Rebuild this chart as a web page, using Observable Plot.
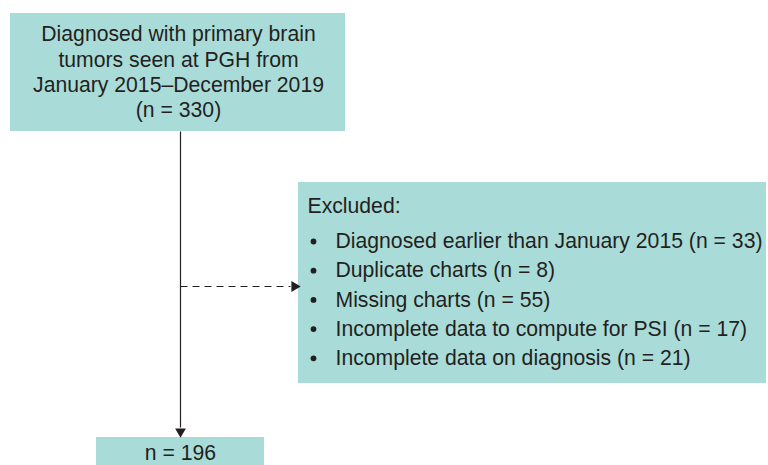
<!DOCTYPE html>
<html>
<head>
<meta charset="utf-8">
<script src="https://cdn.jsdelivr.net/npm/d3@7"></script>
<script src="https://cdn.jsdelivr.net/npm/@observablehq/plot@0.6"></script>
<style>
  html, body { margin: 0; padding: 0; background: #ffffff; }
  #chart svg { display: block; }
</style>
</head>
<body>
<div id="chart"></div>
<script>
// ---- data ----
const sourceLines = ["Diagnosed with primary brain", "tumors seen at PGH from", "January 2015–December 2019"];
const initialCount = 330;
const exclusionTitle = "Excluded:";
const exclusionReasons = [
  "Diagnosed earlier than January 2015",
  "Duplicate charts",
  "Missing charts",
  "Incomplete data to compute for PSI",
  "Incomplete data on diagnosis"
];
const exclusionCounts = [33, 8, 55, 17, 21];
const finalCount = 196;

// ---- layout ----
const W = 768, H = 465;
const FILL = "#a9dcd9", INK = "#231f20";
const FONT = "Liberation Sans, Arial, Helvetica, sans-serif";
const FS = 21.2;

const boxes = [
  {x1: 10, x2: 345, y1: 13, y2: 131},
  {x1: 298, x2: 766, y1: 182, y2: 383},
  {x1: 96, x2: 264, y1: 437, y2: 470}
];

const topLines = [...sourceLines, `(n = ${initialCount})`].map((t, i) => ({t, x: 178, y: 34 + i * 25.3}));
const exclRows = exclusionReasons.map((r, i) => ({t: `${r} (n = ${exclusionCounts[i]})`, x: 335, bx: 313, y: 241 + i * 29.2}));
const finalLine = [{t: `n = ${finalCount}`, x: 180, y: 453}];

const solid = [{x1: 180, y1: 131, x2: 180, y2: 427}];
const dashed = [{x1: 180, y1: 286, x2: 290, y2: 286}];
const heads = [{x: 180, y: 431, rot: 180}, {x: 294, y: 286, rot: 90}];

const chart = Plot.plot({
  width: W, height: H,
  margin: 0,
  x: {domain: [0, W], range: [0, W], axis: null},
  y: {domain: [0, H], range: [0, H], axis: null},
  marks: [
    Plot.rect(boxes, {x1: "x1", x2: "x2", y1: "y1", y2: "y2", fill: FILL}),
    Plot.link(solid, {x1: "x1", y1: "y1", x2: "x2", y2: "y2", stroke: INK, strokeWidth: 1.2}),
    Plot.link(dashed, {x1: "x1", y1: "y1", x2: "x2", y2: "y2", stroke: INK, strokeWidth: 1.1, strokeDasharray: "7,5"}),
    Plot.dot(heads, {x: "x", y: "y", rotate: "rot", symbol: "triangle", r: 4, fill: INK, stroke: "none"}),
    Plot.text(topLines, {x: "x", y: "y", text: "t", fontSize: FS, fontFamily: FONT, fill: INK, textAnchor: "middle", lineAnchor: "middle"}),
    Plot.text([{t: exclusionTitle}], {x: () => 307, y: () => 206, text: "t", fontSize: FS, fontFamily: FONT, fill: INK, textAnchor: "start", lineAnchor: "middle"}),
    Plot.dot(exclRows, {x: "bx", y: "y", r: 2.9, fill: INK, stroke: "none"}),
    Plot.text(exclRows, {x: "x", y: "y", text: "t", fontSize: FS, fontFamily: FONT, fill: INK, textAnchor: "start", lineAnchor: "middle"}),
    Plot.text(finalLine, {x: "x", y: "y", text: "t", fontSize: FS, fontFamily: FONT, fill: INK, textAnchor: "middle", lineAnchor: "middle"})
  ]
});
document.getElementById("chart").append(chart);
</script>
</body>
</html>
